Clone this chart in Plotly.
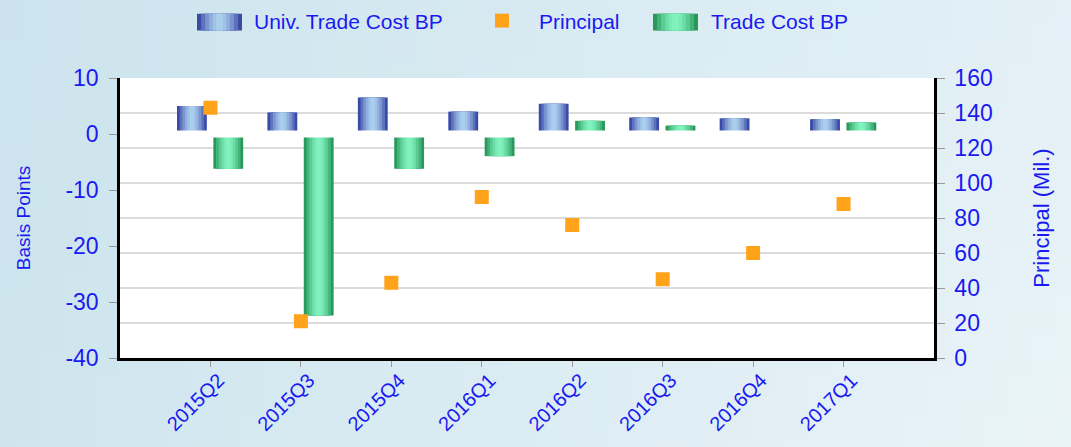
import base64
import struct
import zlib

import plotly.graph_objects as go

# Quarterly values
quarters = ["2015Q2", "2015Q3", "2015Q4", "2016Q1", "2016Q2", "2016Q3", "2016Q4", "2017Q1"]
univ_trade_cost_bp = [5.0, 3.85, 6.5, 4.0, 5.4, 2.95, 2.8, 2.65]
trade_cost_bp = [-6.2, -32.4, -6.2, -3.95, 2.35, 1.5, None, 2.05]
principal_mil = [143, 21, 43, 92, 76, 45, 60, 88]

# Axis tick labels (plain hyphen for negatives)
bp_ticks = [-40, -30, -20, -10, 0, 10]
bp_tick_text = ["-40", "-30", "-20", "-10", "0", "10"]

TEXT_BLUE = "#1a1af0"
FONT = "Liberation Sans, Arial, sans-serif"

W, H = 1071, 447
M_L, M_R, M_T, M_B = 120, 137, 78, 86
PLOT_W, PLOT_H = W - M_L - M_R, H - M_T - M_B

BLUE_EDGE, BLUE_LIGHT = (40, 52, 156), (172, 208, 238)
GREEN_EDGE, GREEN_LIGHT = (26, 138, 74), (130, 244, 192)
ORANGE = "#ffa31a"


def px_x(px):
    return (px - M_L) / PLOT_W


def px_y(py):
    return (H - M_B - py) / PLOT_H


def gradient_png(w, h, corners):
    """Small bilinear gradient PNG as a data URI (tl, tr, bl, br corner colours)."""
    tl, tr, bl, br = corners
    rows = []
    for j in range(h):
        v = j / (h - 1)
        row = bytearray([0])
        for i in range(w):
            u = i / (w - 1)
            for c in range(3):
                top = tl[c] + (tr[c] - tl[c]) * u
                bot = bl[c] + (br[c] - bl[c]) * u
                row.append(int(round(top + (bot - top) * v)))
        rows.append(bytes(row))
    raw = b"".join(rows)

    def chunk(tag, data):
        body = tag + data
        return struct.pack(">I", len(data)) + body + struct.pack(">I", zlib.crc32(body) & 0xFFFFFFFF)

    png = b"\x89PNG\r\n\x1a\n"
    png += chunk(b"IHDR", struct.pack(">IIBBBBB", w, h, 8, 2, 0, 0, 0))
    png += chunk(b"IDAT", zlib.compress(raw, 9))
    png += chunk(b"IEND", b"")
    return "data:image/png;base64," + base64.b64encode(png).decode()


def mix(c1, c2, t):
    return "rgb(%d,%d,%d)" % tuple(int(round(a + (b - a) * t)) for a, b in zip(c1, c2))


FRACS = [1.0, 0.82, 0.64, 0.46, 0.3, 0.15]


def shade(k):
    r = (FRACS[k] + (FRACS[k + 1] if k + 1 < len(FRACS) else 0)) / 2
    return 1 - r ** 1.6


def shaded_bars(fig, y, name, centre, width, edge, light):
    """Cylinder-like shading: stacked overlay bars getting narrower and lighter."""
    for k, f in enumerate(FRACS):
        w = width * f
        fig.add_trace(go.Bar(
            x=quarters, y=y, name=name,
            width=w, offset=centre - w / 2,
            marker=dict(color=mix(edge, light, shade(k)), line=dict(width=0)),
            showlegend=False, hoverinfo="skip" if k else None,
        ))


def legend_swatch(x0, x1, y0, y1, edge, light):
    shapes = []
    cx, half = (x0 + x1) / 2, (x1 - x0) / 2
    for k, f in enumerate(FRACS):
        shapes.append(dict(
            type="rect", xref="paper", yref="paper",
            x0=px_x(cx - half * f), x1=px_x(cx + half * f),
            y0=px_y(y1), y1=px_y(y0),
            fillcolor=mix(edge, light, shade(k)), line=dict(width=0), layer="above",
        ))
    return shapes


fig = go.Figure()

shaded_bars(fig, univ_trade_cost_bp, "Univ. Trade Cost BP", -0.205, 0.33, BLUE_EDGE, BLUE_LIGHT)
shaded_bars(fig, trade_cost_bp, "Trade Cost BP", 0.197, 0.33, GREEN_EDGE, GREEN_LIGHT)

fig.add_trace(go.Scatter(
    x=quarters, y=principal_mil, name="Principal", mode="markers",
    yaxis="y2", showlegend=False,
    marker=dict(symbol="square", size=14, color=ORANGE, line=dict(width=0)),
))

tick_font = dict(family=FONT, size=23, color=TEXT_BLUE)
legend_font = dict(family=FONT, size=21, color=TEXT_BLUE)

shapes = [
    # white plotting area over the gradient backdrop
    dict(type="rect", xref="paper", yref="paper", x0=0, x1=1, y0=0, y1=1,
         fillcolor="white", line=dict(width=0), layer="below"),
    # thin gap separating bars at the zero line
    dict(type="line", xref="paper", yref="y", x0=0, x1=1, y0=0, y1=0,
         line=dict(color="white", width=7), layer="above"),
]
shapes += legend_swatch(197, 242, 13, 30, BLUE_EDGE, BLUE_LIGHT)
shapes += [dict(type="rect", xref="paper", yref="paper",
                x0=px_x(495), x1=px_x(509), y0=px_y(27), y1=px_y(13),
                fillcolor=ORANGE, line=dict(width=0), layer="above")]
shapes += legend_swatch(653, 698, 13, 30, GREEN_EDGE, GREEN_LIGHT)

annotations = [
    dict(text=label, x=px_x(xpos), y=px_y(21), xref="paper", yref="paper",
         xanchor="left", yanchor="middle", showarrow=False, font=legend_font)
    for label, xpos in [("Univ. Trade Cost BP", 252), ("Principal", 537), ("Trade Cost BP", 709)]
]

fig.update_layout(
    width=W, height=H,
    margin=dict(l=M_L, r=M_R, t=M_T, b=M_B),
    paper_bgcolor="#d6eaf2",
    plot_bgcolor="white",
    barmode="overlay",
    showlegend=False,
    font=dict(family=FONT, color=TEXT_BLUE),
    images=[dict(
        source=gradient_png(48, 24, [(203, 227, 237), (228, 241, 247),
                                      (206, 229, 238), (236, 245, 249)]),
        xref="paper", yref="paper", x=-0.2, y=1.4, sizex=1.45, sizey=1.8,
        xanchor="left", yanchor="top", sizing="stretch", layer="below",
    )],
    xaxis=dict(
        type="category", range=[-1, 8],
        showline=True, linecolor="black", linewidth=2.5,
        ticks="outside", ticklen=6, tickcolor="#999999",
        tickangle=-45, ticklabelshift=8, ticklabelstandoff=-6,
        tickfont=dict(family=FONT, size=20, color=TEXT_BLUE),
        showgrid=False, zeroline=False,
    ),
    yaxis=dict(
        range=[-40, 10], tickvals=bp_ticks, ticktext=bp_tick_text,
        showline=True, linecolor="black", linewidth=2.5,
        ticks="outside", ticklen=8, tickcolor="#999999", ticklabelstandoff=6,
        tickfont=tick_font, showgrid=False, zeroline=False,
        title=dict(text="Basis Points", font=dict(family=FONT, size=19, color=TEXT_BLUE),
                   standoff=30),
    ),
    yaxis2=dict(
        range=[0, 160], dtick=20, overlaying="y", side="right",
        showline=True, linecolor="black", linewidth=2.5,
        ticks="outside", ticklen=8, tickcolor="#999999", ticklabelstandoff=5,
        tickfont=tick_font, showgrid=True, gridcolor="#dcdcdc", gridwidth=1.5,
        zeroline=False,
        title=dict(text="Principal (Mil.)", font=dict(family=FONT, size=22, color=TEXT_BLUE),
                   standoff=42),
    ),
    shapes=shapes,
    annotations=annotations,
)

fig.write_html("out.html")
